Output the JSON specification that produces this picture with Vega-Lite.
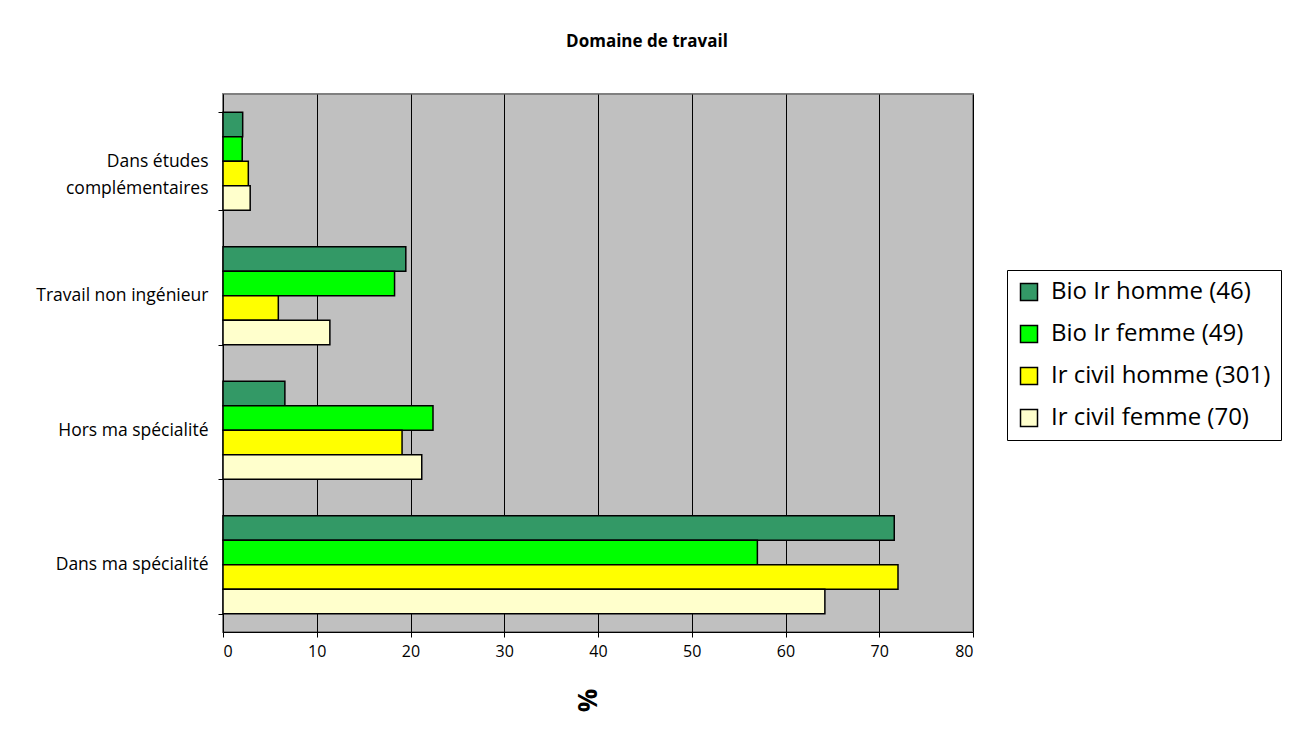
{
  "$schema": "https://vega.github.io/schema/vega-lite/v6.json",
  "autosize": {"type": "none"},
  "width": 750,
  "height": 538,
  "padding": {"left": 223, "top": 94, "right": 319, "bottom": 106},
  "background": "white",
  "title": {"text": "Domaine de travail", "fontSize": 17, "fontWeight": "bold", "font": "Open Sans", "color": "black", "anchor": "middle", "frame": "group", "offset": 34, "dx": 49},
  "data": {"values": [
    {"cat": "Dans études complémentaires", "grp": "Bio Ir homme (46)", "v": 2.1},
    {"cat": "Dans études complémentaires", "grp": "Bio Ir femme (49)", "v": 2.05},
    {"cat": "Dans études complémentaires", "grp": "Ir civil homme (301)", "v": 2.7},
    {"cat": "Dans études complémentaires", "grp": "Ir civil femme (70)", "v": 2.9},
    {"cat": "Travail non ingénieur", "grp": "Bio Ir homme (46)", "v": 19.5},
    {"cat": "Travail non ingénieur", "grp": "Bio Ir femme (49)", "v": 18.3},
    {"cat": "Travail non ingénieur", "grp": "Ir civil homme (301)", "v": 5.9},
    {"cat": "Travail non ingénieur", "grp": "Ir civil femme (70)", "v": 11.4},
    {"cat": "Hors ma spécialité", "grp": "Bio Ir homme (46)", "v": 6.6},
    {"cat": "Hors ma spécialité", "grp": "Bio Ir femme (49)", "v": 22.4},
    {"cat": "Hors ma spécialité", "grp": "Ir civil homme (301)", "v": 19.1},
    {"cat": "Hors ma spécialité", "grp": "Ir civil femme (70)", "v": 21.2},
    {"cat": "Dans ma spécialité", "grp": "Bio Ir homme (46)", "v": 71.6},
    {"cat": "Dans ma spécialité", "grp": "Bio Ir femme (49)", "v": 57.0},
    {"cat": "Dans ma spécialité", "grp": "Ir civil homme (301)", "v": 72.0},
    {"cat": "Dans ma spécialité", "grp": "Ir civil femme (70)", "v": 64.2}
  ]},
  "mark": {"type": "bar", "stroke": "black", "strokeWidth": 1.5, "cornerRadius": 0},
  "encoding": {
    "y": {
      "field": "cat", "type": "nominal",
      "sort": ["Dans études complémentaires", "Travail non ingénieur", "Hors ma spécialité", "Dans ma spécialité"],
      "scale": {"paddingInner": 0.27, "paddingOuter": 0.135},
      "axis": {
        "title": null,
        "labelExpr": "datum.value == 'Dans études complémentaires' ? ['Dans études', 'complémentaires'] : datum.value",
        "labelFont": "Open Sans", "labelFontSize": 17.5, "labelColor": "black",
        "labelLineHeight": 27, "labelPadding": 10,
        "tickBand": "extent", "tickColor": "black", "tickSize": 5,
        "domainColor": "black", "domainWidth": 1, "grid": false
      }
    },
    "yOffset": {
      "field": "grp", "type": "nominal",
      "sort": ["Bio Ir homme (46)", "Bio Ir femme (49)", "Ir civil homme (301)", "Ir civil femme (70)"],
      "scale": {"paddingInner": 0, "paddingOuter": 0}
    },
    "x": {
      "field": "v", "type": "quantitative",
      "scale": {"domain": [0, 80], "nice": false},
      "axis": {
        "title": "%", "titleFont": "Open Sans", "titleFontSize": 26, "titleFontWeight": "bold", "titleColor": "black",
        "titleAngle": 90, "titlePadding": 41,
        "values": [0, 10, 20, 30, 40, 50, 60, 70, 80],
        "labelFont": "Open Sans", "labelFontSize": 16, "labelColor": "black", "labelPadding": 6,
        "tickColor": "black", "tickSize": 5, "domainColor": "black",
        "grid": true, "gridColor": "black", "gridWidth": 1, "gridOpacity": 1
      }
    },
    "color": {
      "field": "grp", "type": "nominal",
      "sort": ["Bio Ir homme (46)", "Bio Ir femme (49)", "Ir civil homme (301)", "Ir civil femme (70)"],
      "scale": {"range": ["#339966", "#00FF00", "#FFFF00", "#FFFFCC"]},
      "legend": {
        "title": null, "orient": "none", "legendX": 784, "legendY": 176,
        "symbolType": "square", "symbolSize": 289, "symbolStrokeColor": "black", "symbolStrokeWidth": 1.5,
        "symbolOpacity": 1, "labelOffset": 10,
        "labelFont": "Open Sans", "labelFontSize": 24, "labelColor": "black", "labelLimit": 400,
        "rowPadding": 18, "padding": 10, "strokeColor": "black", "fillColor": "white"
      }
    }
  },
  "config": {
    "view": {"fill": "#C0C0C0", "stroke": "#808080", "strokeWidth": 2}
  }
}
